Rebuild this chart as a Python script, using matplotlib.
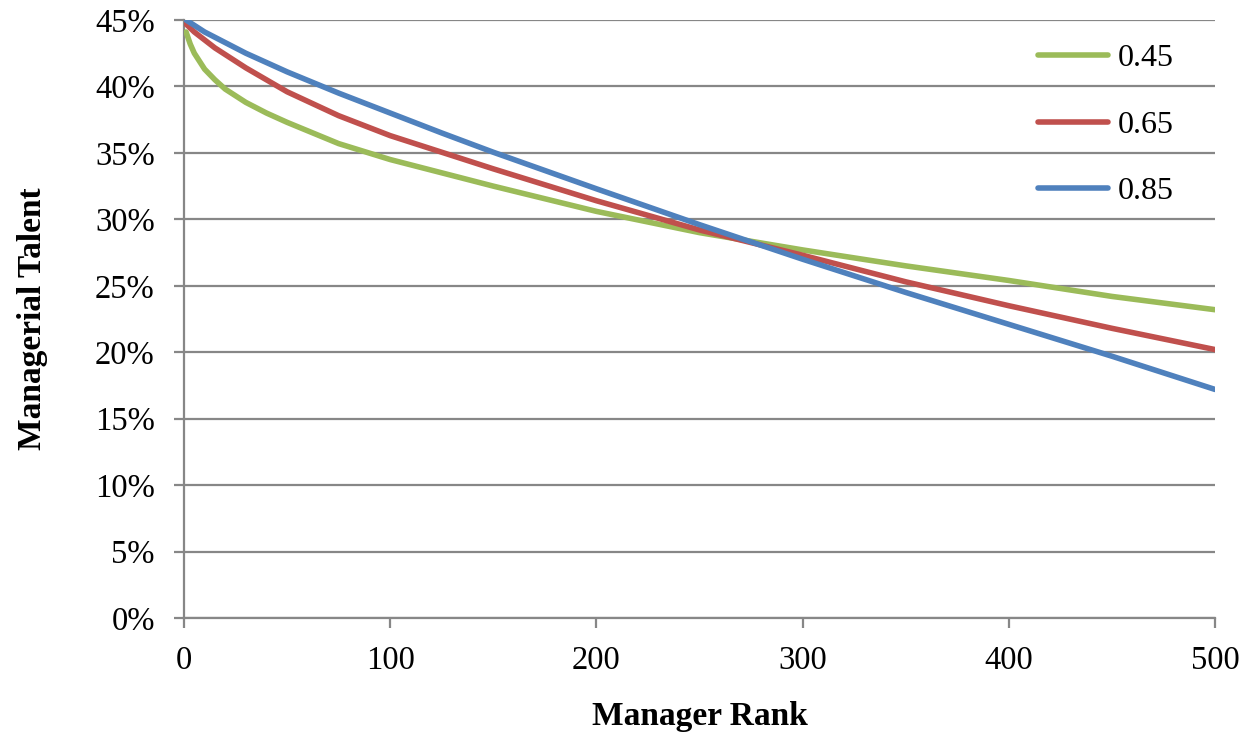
import matplotlib
matplotlib.use("Agg")
import matplotlib.pyplot as plt
from matplotlib.ticker import FuncFormatter

# manager rank (x) and managerial talent in % for the three parameter values
rank = [1, 3, 5, 10, 15, 20, 30, 40, 50, 75, 100, 125, 150, 200, 250, 300, 350, 400, 450, 500]
talent_045 = [44.1, 43.2, 42.5, 41.3, 40.5, 39.8, 38.8, 38.0, 37.3, 35.7, 34.5, 33.5, 32.5,
              30.6, 29.0, 27.7, 26.5, 25.4, 24.2, 23.2]
talent_065 = [44.7, 44.4, 44.1, 43.5, 42.9, 42.4, 41.4, 40.5, 39.6, 37.8, 36.3, 35.05, 33.8,
              31.4, 29.2, 27.3, 25.3, 23.5, 21.8, 20.2]
talent_085 = [45.0, 44.8, 44.6, 44.1, 43.7, 43.3, 42.5, 41.8, 41.1, 39.5, 38.0, 36.5, 35.05,
              32.3, 29.6, 27.0, 24.5, 22.1, 19.7, 17.2]
labels = ["0.45", "0.65", "0.85"]
colors = ["#9BBB59", "#C0504D", "#4F81BD"]

plt.rcParams['font.family'] = ['Liberation Serif', 'DejaVu Serif']

fig = plt.figure(figsize=(12.56, 7.36), dpi=100)
ax = fig.add_axes([0.1465, 0.1603, 0.8209, 0.8125])

for ys, lab, c in zip([talent_045, talent_065, talent_085], labels, colors):
    ax.plot(rank, [v / 100 for v in ys], color=c, lw=4, label=lab,
            solid_capstyle='round', solid_joinstyle='round', zorder=3)

ax.set_xlim(0, 500)
ax.set_ylim(0, 0.45)
ax.set_xticks(range(0, 501, 100))
ax.set_yticks([i * 0.05 for i in range(10)])
ax.yaxis.set_major_formatter(FuncFormatter(lambda v, p: f"{v * 100:.0f}%"))

grid_c = "#878787"
ax.grid(axis='y', color=grid_c, lw=1.6, zorder=1)
ax.set_axisbelow(True)
for s in ['top', 'right']:
    ax.spines[s].set_visible(False)
for s in ['left', 'bottom']:
    ax.spines[s].set_color(grid_c)
    ax.spines[s].set_linewidth(1.6)
ax.tick_params(axis='both', colors=grid_c, width=1.6, length=7, labelsize=23.5,
               labelcolor='black')
ax.tick_params(axis='x', pad=13)
ax.tick_params(axis='y', pad=14)

ax.set_xlabel("Manager Rank", fontsize=24, fontweight='bold', labelpad=18)
ax.set_ylabel("Managerial Talent", fontsize=24, fontweight='bold', labelpad=34)

ax.legend(loc='upper right', bbox_to_anchor=(0.988, 1.008), frameon=False, fontsize=23,
          handlelength=2.2, handletextpad=0.3, labelspacing=1.16)

fig.savefig("out.png", dpi=100)
